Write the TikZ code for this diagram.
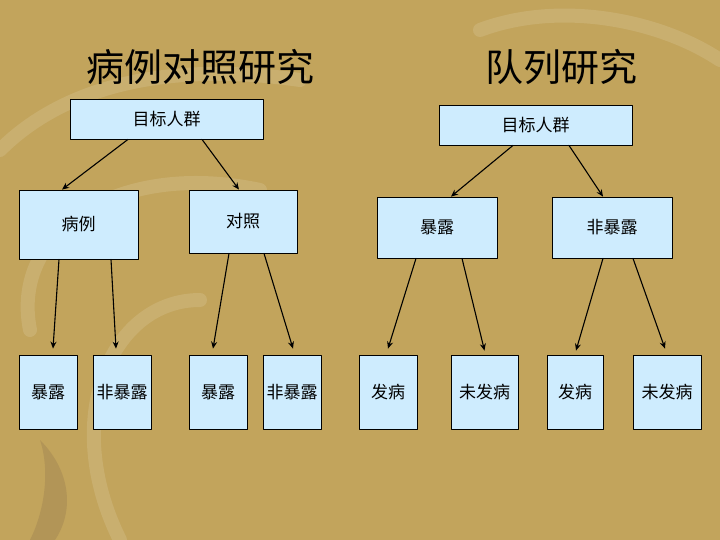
\documentclass[tikz,border=0pt]{standalone}
\usepackage{fontspec}
\newfontfamily\cjk{Noto Sans CJK SC}
\usetikzlibrary{arrows.meta}
\definecolor{bgtan}{RGB}{194,164,92}
\definecolor{bgdark}{RGB}{168,140,84}
\definecolor{boxblue}{RGB}{206,236,254}
\tikzset{
  box/.style={draw=black,fill=boxblue,line width=0.8pt,inner sep=0pt,
    font=\cjk\fontsize{17}{17}\selectfont},
  ttl/.style={inner sep=0pt,font=\cjk\fontsize{38}{38}\selectfont},
  arr/.style={line width=1.1pt,-{Stealth[length=7pt,width=6pt]}}
}
\begin{document}
\begin{tikzpicture}[x=1pt,y=-1pt,line cap=round,line join=round]
  \fill[bgtan] (0,0) rectangle (720,540);
  \useasboundingbox (0,0) rectangle (720,540);
  \begin{scope}[white,opacity=0.12,line width=14pt]
    \draw (0,150) .. controls (60,90) and (160,60) .. (300,80);
    \draw (30,330) .. controls (10,230) and (120,160) .. (260,190);
    \draw (120,540) .. controls (60,420) and (110,300) .. (200,300);
    \draw (480,30) .. controls (560,0) and (660,20) .. (720,60);
  \end{scope}
  \fill[bgdark,opacity=0.6] (40,440) .. controls (70,470) and (75,510) .. (55,540)
    -- (30,540) .. controls (45,510) and (50,470) .. (40,440) -- cycle;
  \node[ttl] (ttlL) at (200,67) {病例对照研究};
  \node[ttl] (ttlR) at (561,67) {队列研究};
  \node[box,minimum width=193pt,minimum height=40pt] (tgtL) at (166.5,119) {目标人群};
  \node[box,minimum width=193pt,minimum height=40pt] (tgtR) at (535.5,125) {目标人群};
  \node[box,minimum width=119pt,minimum height=69pt] (case) at (78.5,224.5) {病例};
  \node[box,minimum width=108pt,minimum height=63pt] (ctrl) at (243,221.5) {对照};
  \node[box,minimum width=120pt,minimum height=61pt] (expo) at (437,227.5) {暴露};
  \node[box,minimum width=120pt,minimum height=61pt] (nexpo) at (612,227.5) {非暴露};
  \node[box,minimum width=58pt,minimum height=74pt] (caseE) at (48,392) {暴露};
  \node[box,minimum width=58pt,minimum height=74pt] (caseN) at (122,392) {非暴露};
  \node[box,minimum width=58pt,minimum height=74pt] (ctrlE) at (218,392) {暴露};
  \node[box,minimum width=58pt,minimum height=74pt] (ctrlN) at (292,392) {非暴露};
  \node[box,minimum width=58pt,minimum height=74pt] (expoD) at (388,392) {发病};
  \node[box,minimum width=67pt,minimum height=74pt] (expoN) at (484.5,392) {未发病};
  \node[box,minimum width=56pt,minimum height=74pt] (nexpoD) at (575,392) {发病};
  \node[box,minimum width=68pt,minimum height=74pt] (nexpoN) at (667,392) {未发病};
  \draw[arr] ([xshift=-38.5pt]tgtL.south) -- ([xshift=-16.5pt]case.north);
  \draw[arr] ([xshift=35.5pt]tgtL.south) -- ([xshift=-4pt]ctrl.north);
  \draw[arr] ([xshift=-22.5pt]tgtR.south) -- ([xshift=14pt]expo.north);
  \draw[arr] ([xshift=33.5pt]tgtR.south) -- ([xshift=-9pt]nexpo.north);
  \draw[arr] ([xshift=-19.5pt]case.south) -- ([xshift=5pt,yshift=6pt]caseE.north);
  \draw[arr] ([xshift=32.5pt]case.south) -- ([xshift=-6pt,yshift=6pt]caseN.north);
  \draw[arr] ([xshift=-14pt]ctrl.south) -- ([xshift=-5pt,yshift=6pt]ctrlE.north);
  \draw[arr] ([xshift=21pt]ctrl.south) -- ([xshift=1pt,yshift=6pt]ctrlN.north);
  \draw[arr] ([xshift=-21pt]expo.south) -- ([yshift=6pt]expoD.north);
  \draw[arr] ([xshift=25pt]expo.south) -- ([yshift=4pt]expoN.north);
  \draw[arr] ([xshift=-9pt]nexpo.south) -- ([xshift=1pt,yshift=4pt]nexpoD.north);
  \draw[arr] ([xshift=21pt]nexpo.south) -- ([xshift=-2pt,yshift=6pt]nexpoN.north);
\end{tikzpicture}
\end{document}
